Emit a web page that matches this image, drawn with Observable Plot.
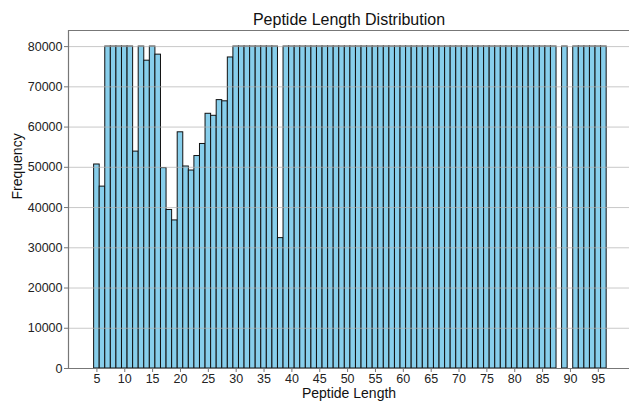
<!DOCTYPE html>
<html>
<head>
<meta charset="utf-8">
<script src="https://cdn.jsdelivr.net/npm/d3@7"></script>
<script src="https://cdn.jsdelivr.net/npm/@observablehq/plot@0.6"></script>
<style>
  html, body { margin: 0; padding: 0; background: #fff; }
  svg { display: block; }
</style>
</head>
<body>
<div id="chart"></div>
<script>
const title = "Peptide Length Distribution";
const xLabel = "Peptide Length";
const yLabel = "Frequency";

const lengths = [
  5, 6, 7, 8, 9, 10, 11, 12, 13, 14,
  15, 16, 17, 18, 19, 20, 21, 22, 23, 24,
  25, 26, 27, 28, 29, 30, 31, 32, 33, 34,
  35, 36, 37, 38, 39, 40, 41, 42, 43, 44,
  45, 46, 47, 48, 49, 50, 51, 52, 53, 54,
  55, 56, 57, 58, 59, 60, 61, 62, 63, 64,
  65, 66, 67, 68, 69, 70, 71, 72, 73, 74,
  75, 76, 77, 78, 79, 80, 81, 82, 83, 84,
  85, 86, 87,
  89,
  91, 92, 93, 94, 95, 96
];

const frequencies = [
  50700, 45200, 80000, 80000, 80000, 80000, 80000, 53900, 80000, 76500,
  80000, 78000, 49800, 39400, 36800, 58700, 50200, 49200, 52800, 55800,
  63300, 62800, 66700, 66400, 77300, 80000, 80000, 80000, 80000, 80000,
  80000, 80000, 80000, 32400, 80000, 80000, 80000, 80000, 80000, 80000,
  80000, 80000, 80000, 80000, 80000, 80000, 80000, 80000, 80000, 80000,
  80000, 80000, 80000, 80000, 80000, 80000, 80000, 80000, 80000, 80000,
  80000, 80000, 80000, 80000, 80000, 80000, 80000, 80000, 80000, 80000,
  80000, 80000, 80000, 80000, 80000, 80000, 80000, 80000, 80000, 80000,
  80000, 80000, 80000,
  80000,
  80000, 80000, 80000, 80000, 80000, 80000
];

const xTicks = [5, 10, 15, 20, 25, 30, 35, 40, 45, 50, 55, 60, 65, 70, 75, 80, 85, 90, 95];
const yTicks = [0, 10000, 20000, 30000, 40000, 50000, 60000, 70000, 80000];

const data = lengths.map((len, i) => ({len, freq: frequencies[i]}));

const font = "'Liberation Sans', Arial, sans-serif";

const chart = Plot.plot({
  width: 629,
  height: 402,
  marginTop: 30,
  marginBottom: 34,
  marginLeft: 68,
  marginRight: 0,
  style: {fontFamily: font, fontSize: "12.5px", color: "#222", background: "#fff"},
  x: {domain: [-0.1, 100.6]},
  y: {domain: [0, 84000]},
  marks: [
    Plot.rectY(data, {
      x1: d => d.len - 0.5,
      x2: d => d.len + 0.5,
      y: "freq",
      fill: "skyblue",
      stroke: "#111",
      strokeWidth: 1
    }),
    Plot.ruleY(yTicks.slice(1), {stroke: "#b0b0b0", strokeOpacity: 0.7, strokeWidth: 1}),
    Plot.ruleX([-0.1], {stroke: "#777", strokeWidth: 1.2}),
    Plot.ruleY([0], {stroke: "#777", strokeWidth: 1.2}),
    Plot.ruleY([84000], {stroke: "#777", strokeWidth: 1.2}),
    Plot.axisX({ticks: xTicks, tickSize: 4, tickPadding: 2, stroke: "#777", label: null, fontSize: 12.5}),
    Plot.axisY({ticks: yTicks, tickSize: 4, tickPadding: 2, stroke: "#777", label: null, tickFormat: d => String(d), fontSize: 12.5}),
    Plot.text([title], {frameAnchor: "top", dy: -11, fontSize: 16, fill: "#111", lineAnchor: "middle"}),
    Plot.text([xLabel], {frameAnchor: "bottom", dy: 25, fontSize: 14, fill: "#111", lineAnchor: "middle"}),
    Plot.text([yLabel], {frameAnchor: "left", dx: -51, rotate: -90, fontSize: 14, fill: "#111", lineAnchor: "middle"})
  ]
});

document.getElementById("chart").appendChild(chart);
</script>
</body>
</html>
